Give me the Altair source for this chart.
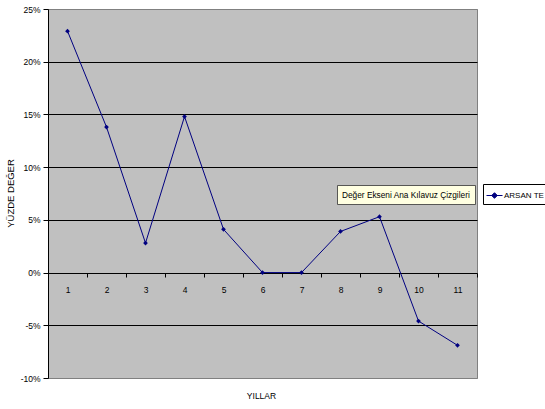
import altair as alt
import pandas as pd

# Yearly percentage change for the series
years = ["1", "2", "3", "4", "5", "6", "7", "8", "9", "10", "11"]
values = [22.9, 13.8, 2.8, 14.8, 4.1, 0.0, 0.0, 3.9, 5.3, -4.6, -6.9]
series_name = "ARSAN TE"
y_ticks = [-10, -5, 0, 5, 10, 15, 20, 25]
hint = ["Değer Ekseni Ana Kılavuz Çizgileri"]

df = pd.DataFrame({"yil": years, "deger": values, "seri": series_name})

W, H = 429, 369
FONT = "Liberation Sans"
NAVY = "#000080"

x_enc = alt.X(
    "yil:N",
    sort=years,
    scale=alt.Scale(paddingInner=0, paddingOuter=0),
    axis=alt.Axis(
        title="YILLAR",
        titleFont=FONT,
        titleFontSize=8.5,
        titleFontWeight="normal",
        titleColor="black",
        titleX=213,
        titleY=122,
        titleAlign="center",
        titleBaseline="middle",
        labelAngle=0,
        labelFont=FONT,
        labelFontSize=8.5,
        labelColor="black",
        labelPadding=8,
        tickBand="extent",
        tickSize=4,
        tickColor="black",
        domain=False,
        grid=False,
        offset=-105,
    ),
)

y_enc = alt.Y(
    "deger:Q",
    scale=alt.Scale(domain=[-10, 25], nice=False, zero=False),
    axis=alt.Axis(
        values=y_ticks,
        labelExpr="datum.value + '%'",
        title="YÜZDE DEĞER",
        titleFont=FONT,
        titleFontSize=9.5,
        titleFontWeight="normal",
        titleColor="black",
        titleX=-38,
        titleY=184,
        titleAngle=270,
        titleAlign="center",
        titleBaseline="middle",
        labelFont=FONT,
        labelFontSize=8.5,
        labelColor="black",
        labelPadding=3,
        tickSize=5,
        tickColor="black",
        domainColor="black",
        gridColor={
            "condition": {"test": "datum.value == 25 || datum.value == -10", "value": "#808080"},
            "value": "black",
        },
        gridOpacity=1,
    ),
)

color_enc = alt.Color(
    "seri:N",
    scale=alt.Scale(range=[NAVY]),
    legend=alt.Legend(
        title=None,
        orient="none",
        legendX=435,
        legendY=175,
        strokeColor="black",
        fillColor="white",
        padding=3,
        cornerRadius=0,
        labelFont=FONT,
        labelFontSize=8,
        labelColor="black",
        symbolType="M-1,0L1,0M0,-0.35L0.35,0L0,0.35L-0.35,0Z",
        symbolSize=256,
        symbolStrokeWidth=1,
        symbolFillColor=NAVY,
        symbolStrokeColor=NAVY,
        labelOffset=1,
    ),
)

base = alt.Chart(df)

line = base.mark_line(strokeWidth=1).encode(x=x_enc, y=y_enc, color=color_enc)
points = base.mark_point(shape="diamond", filled=True, size=22, opacity=1).encode(
    x=x_enc, y=y_enc, color=color_enc
)

# Hover hint box over the major gridline
hint_df = pd.DataFrame({"t": hint})
hint_box = alt.Chart(hint_df).mark_rect(
    fill="#FFFFE1", stroke="#333333", strokeWidth=0.8
).encode(
    x=alt.value(289.5), x2=alt.value(427.5), y=alt.value(176.5), y2=alt.value(195.5)
)
hint_text = alt.Chart(hint_df).mark_text(
    align="left", baseline="middle", font=FONT, fontSize=8.3, color="black"
).encode(x=alt.value(294), y=alt.value(186.5), text="t:N")

chart = (
    alt.layer(line, points, hint_box, hint_text)
    .properties(
        width=W,
        height=H,
        autosize=alt.AutoSizeParams(type="none"),
        padding={"left": 48, "top": 9, "right": 68, "bottom": 31},
        background="white",
    )
    .configure_view(fill="#C0C0C0", stroke="#808080", strokeWidth=1)
)

chart.save("out.html", embed_options={"renderer": "svg", "actions": False})
